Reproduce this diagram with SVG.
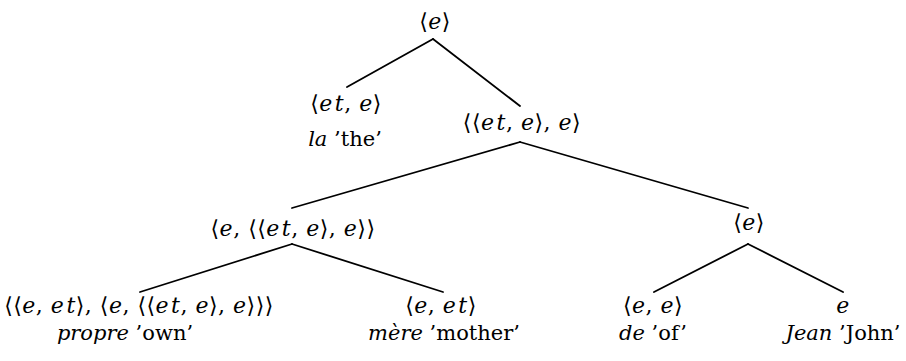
<svg xmlns="http://www.w3.org/2000/svg" width="906" height="361" viewBox="0 0 906 361">
<style>
text{font-family:'DejaVu Serif',serif;font-size:21px;fill:#000;text-anchor:middle}
.m{font-size:22px;letter-spacing:0.5px}
.i{font-style:italic}
line{stroke:#000;stroke-width:1.8;stroke-linecap:round}
</style>
<rect width="906" height="361" fill="#fff"/>
<g id="connectors">
<line x1="433" y1="39" x2="347" y2="87"/>
<line x1="433" y1="39" x2="520" y2="106"/>
<line x1="520" y1="142" x2="292" y2="208"/>
<line x1="520" y1="142" x2="748" y2="208"/>
<line x1="292" y1="244" x2="140" y2="292"/>
<line x1="292" y1="244" x2="443" y2="292"/>
<line x1="748" y1="244" x2="654" y2="292"/>
<line x1="748" y1="244" x2="843" y2="292"/>
</g>
<g id="root"><text class="m" x="435" y="29">⟨<tspan class="i">e</tspan>⟩</text></g>
<g id="la">
<text class="m" x="346" y="111">⟨<tspan class="i">e</tspan><tspan class="i" dx="2">t</tspan>, <tspan class="i">e</tspan>⟩</text>
<text x="345" y="146"><tspan class="i">la</tspan> ’the’</text>
</g>
<g id="n1"><text class="m" x="522" y="130">⟨⟨<tspan class="i">e</tspan><tspan class="i" dx="2">t</tspan>, <tspan class="i">e</tspan>⟩, <tspan class="i">e</tspan>⟩</text></g>
<g id="n2"><text class="m" x="293" y="236">⟨<tspan class="i">e</tspan>, ⟨⟨<tspan class="i">e</tspan><tspan class="i" dx="2">t</tspan>, <tspan class="i">e</tspan>⟩, <tspan class="i">e</tspan>⟩⟩</text></g>
<g id="n3"><text class="m" x="749" y="230">⟨<tspan class="i">e</tspan>⟩</text></g>
<g id="propre">
<text class="m" x="139" y="313">⟨⟨<tspan class="i">e</tspan>, <tspan class="i">e</tspan><tspan class="i" dx="2">t</tspan>⟩, ⟨<tspan class="i">e</tspan>, ⟨⟨<tspan class="i">e</tspan><tspan class="i" dx="2">t</tspan>, <tspan class="i">e</tspan>⟩, <tspan class="i">e</tspan>⟩⟩⟩</text>
<text x="125" y="340"><tspan class="i">propre</tspan> ’own’</text>
</g>
<g id="mere">
<text class="m" x="441" y="313">⟨<tspan class="i">e</tspan>, <tspan class="i">e</tspan><tspan class="i" dx="2">t</tspan>⟩</text>
<text x="444" y="340"><tspan class="i">mère</tspan> ’mother’</text>
</g>
<g id="de">
<text class="m" x="653" y="313">⟨<tspan class="i">e</tspan>, <tspan class="i">e</tspan>⟩</text>
<text x="653" y="340"><tspan class="i">de</tspan> ’of’</text>
</g>
<g id="jean">
<text class="m" x="843" y="313"><tspan class="i">e</tspan></text>
<text x="843" y="340"><tspan class="i">Jean</tspan> ’John’</text>
</g>
</svg>
